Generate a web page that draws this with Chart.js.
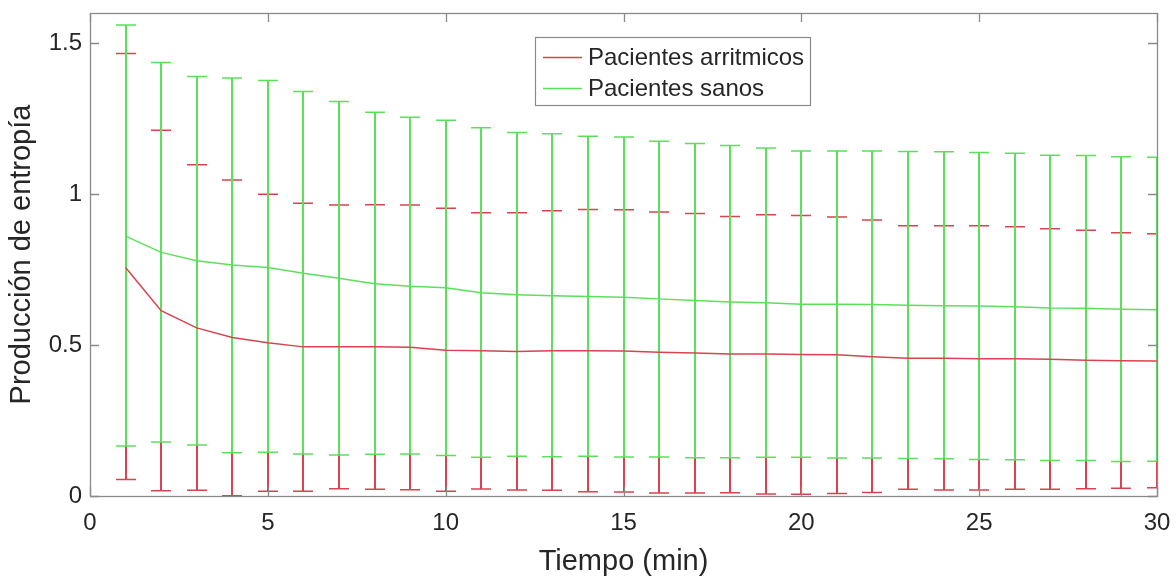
<!DOCTYPE html>
<html><head><meta charset="utf-8">
<script src="https://cdn.jsdelivr.net/npm/chart.js@4/dist/chart.umd.min.js"></script>
<style>html,body{margin:0;padding:0;background:#fff;overflow:hidden}#wrap{width:1176px;height:579px;position:relative}</style>
</head><body><div id="wrap"><canvas id="c" width="1176" height="579"></canvas></div>
<script>
const minutes = [1,2,3,4,5,6,7,8,9,10,11,12,13,14,15,16,17,18,19,20,21,22,23,24,25,26,27,28,29,30];
const arritMean  = [0.757,0.614,0.557,0.525,0.508,0.494,0.494,0.494,0.493,0.483,0.481,0.479,0.481,0.481,0.480,0.476,0.474,0.470,0.470,0.469,0.468,0.461,0.456,0.456,0.455,0.455,0.453,0.450,0.448,0.447];
const arritUpper = [1.466,1.212,1.097,1.047,1.000,0.970,0.964,0.965,0.964,0.953,0.938,0.938,0.945,0.949,0.948,0.941,0.936,0.926,0.932,0.929,0.924,0.914,0.895,0.895,0.895,0.892,0.885,0.880,0.872,0.869];
const arritLower = [0.055,0.017,0.019,0.001,0.016,0.016,0.024,0.022,0.021,0.016,0.023,0.020,0.019,0.014,0.013,0.010,0.010,0.011,0.007,0.006,0.008,0.012,0.022,0.020,0.020,0.022,0.022,0.024,0.026,0.027];
const sanosMean  = [0.861,0.807,0.779,0.765,0.757,0.738,0.721,0.703,0.695,0.690,0.673,0.667,0.663,0.661,0.658,0.653,0.648,0.643,0.640,0.635,0.635,0.634,0.632,0.630,0.629,0.627,0.623,0.622,0.619,0.617];
const sanosUpper = [1.560,1.436,1.390,1.385,1.376,1.340,1.307,1.271,1.255,1.245,1.220,1.204,1.200,1.192,1.189,1.175,1.168,1.161,1.153,1.143,1.143,1.143,1.141,1.140,1.138,1.135,1.129,1.128,1.124,1.122];
const sanosLower = [0.166,0.179,0.169,0.143,0.145,0.139,0.136,0.138,0.139,0.134,0.128,0.132,0.130,0.132,0.129,0.129,0.127,0.127,0.128,0.128,0.126,0.126,0.124,0.123,0.121,0.120,0.118,0.118,0.114,0.115];
const seriesNames = ['Pacientes arritmicos','Pacientes sanos'];
const xTicks = [0,5,10,15,20,25,30];
const xTickLabels = ['0','5','10','15','20','25','30'];
const yTicks = [0,0.5,1,1.5];
const yTickLabels = ['0','0.5','1','1.5'];
const xTitle = 'Tiempo (min)';
const yTitle = 'Producción de entropía';

const RED = '#d9434f', GREEN = '#5ce05c', AXIS = '#8a8a8a', TEXT = '#262626';
const FONT = "'Liberation Sans', Arial, sans-serif";

const series = [
  {name: seriesNames[0], color: RED, mean: arritMean, upper: arritUpper, lower: arritLower},
  {name: seriesNames[1], color: GREEN, mean: sanosMean, upper: sanosUpper, lower: sanosLower}
];

const errorBars = {
  id: 'errorBars',
  beforeDatasetsDraw(chart) {
    const {ctx, chartArea: a, scales: {x, y}} = chart;
    ctx.save();
    ctx.beginPath(); ctx.rect(a.left, a.top, a.right - a.left + 1, a.bottom - a.top); ctx.clip();
    series.forEach(s => {
      ctx.strokeStyle = s.color;
      ctx.lineWidth = 2;
      ctx.beginPath();
      minutes.forEach((m, i) => {
        const px = Math.round(x.getPixelForValue(m));
        ctx.moveTo(px, y.getPixelForValue(s.upper[i]));
        ctx.lineTo(px, y.getPixelForValue(s.lower[i]));
      });
      ctx.stroke();
      ctx.lineWidth = 1.5;
      ctx.beginPath();
      minutes.forEach((m, i) => {
        const px = Math.round(x.getPixelForValue(m));
        const pu = y.getPixelForValue(s.upper[i]);
        const pl = y.getPixelForValue(s.lower[i]);
        ctx.moveTo(px - 10, pu); ctx.lineTo(px + 10, pu);
        ctx.moveTo(px - 10, pl); ctx.lineTo(px + 10, pl);
      });
      ctx.stroke();
    });
    ctx.restore();
  }
};

const frame = {
  id: 'frame',
  afterDraw(chart) {
    const {ctx, chartArea: a, scales: {x, y}} = chart;
    ctx.save();
    ctx.strokeStyle = AXIS; ctx.lineWidth = 1.3;
    ctx.strokeRect(a.left + 0.5, a.top + 0.5, a.right - a.left, a.bottom - a.top);
    ctx.beginPath();
    const tl = 9;
    xTicks.forEach(v => {
      const px = Math.round(x.getPixelForValue(v)) + 0.5;
      ctx.moveTo(px, a.bottom); ctx.lineTo(px, a.bottom - tl);
      ctx.moveTo(px, a.top); ctx.lineTo(px, a.top + tl);
    });
    yTicks.forEach(v => {
      const py = Math.round(y.getPixelForValue(v)) + 0.5;
      ctx.moveTo(a.left, py); ctx.lineTo(a.left + tl, py);
      ctx.moveTo(a.right, py); ctx.lineTo(a.right - tl, py);
    });
    ctx.stroke();
    // legend
    const lx = 535.5, ly = 37.5, lw = 275, lh = 68;
    ctx.fillStyle = '#fff'; ctx.fillRect(lx, ly, lw, lh);
    ctx.strokeStyle = AXIS; ctx.lineWidth = 1.2; ctx.strokeRect(lx, ly, lw, lh);
    ctx.font = '24px ' + FONT; ctx.textBaseline = 'middle'; ctx.textAlign = 'left';
    series.forEach((s, i) => {
      const cy = 57 + i * 31;
      ctx.strokeStyle = s.color; ctx.lineWidth = 1.3;
      ctx.beginPath(); ctx.moveTo(543, cy + 0.5); ctx.lineTo(582, cy + 0.5); ctx.stroke();
      ctx.fillStyle = TEXT; ctx.fillText(s.name, 588, cy + 1);
    });
    ctx.restore();
  }
};

const zeroPad = s => { s.paddingTop = 0; s.paddingBottom = 0; s.paddingLeft = 0; s.paddingRight = 0; };

new Chart(document.getElementById('c'), {
  type: 'line',
  data: {
    datasets: series.map(s => ({
      label: s.name,
      data: minutes.map((m, i) => ({x: m, y: s.mean[i]})),
      borderColor: s.color, borderWidth: 1.5, pointRadius: 0, tension: 0, fill: false
    }))
  },
  options: {
    responsive: false, animation: false, devicePixelRatio: 1,
    layout: {padding: {top: 13, right: 19, left: 0, bottom: 0}},
    plugins: {legend: {display: false}, tooltip: {enabled: false}},
    scales: {
      x: {
        type: 'linear', min: 0, max: 30,
        afterBuildTicks: s => { s.ticks = xTicks.map(v => ({value: v})); },
        afterFit: s => { s.height = 83; zeroPad(s); },
        grid: {display: false, drawTicks: false}, border: {display: false},
        ticks: {padding: 13, color: TEXT, font: {family: FONT, size: 24}, maxRotation: 0,
                callback: (v) => xTickLabels[xTicks.indexOf(v)]},
        title: {display: true, text: xTitle, color: TEXT, font: {family: FONT, size: 29}, padding: {top: 0, bottom: 0}}
      },
      y: {
        type: 'linear', min: 0, max: 1.6,
        afterBuildTicks: s => { s.ticks = yTicks.map(v => ({value: v})); },
        afterFit: s => { s.width = 90; zeroPad(s); },
        grid: {display: false, drawTicks: false}, border: {display: false},
        ticks: {padding: 8, color: TEXT, font: {family: FONT, size: 24},
                callback: (v) => yTickLabels[yTicks.indexOf(v)]},
        title: {display: true, text: yTitle, color: TEXT, font: {family: FONT, size: 29}, padding: {top: 5, bottom: 0}}
      }
    }
  },
  plugins: [errorBars, frame]
});
</script></body></html>
